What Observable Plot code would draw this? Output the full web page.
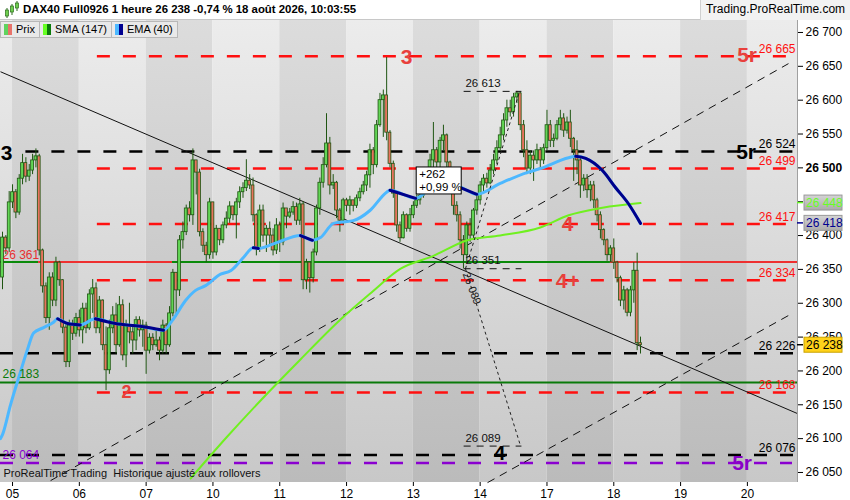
<!DOCTYPE html>
<html><head><meta charset="utf-8">
<script src="https://cdn.jsdelivr.net/npm/d3@7"></script>
<script src="https://cdn.jsdelivr.net/npm/@observablehq/plot@0.6"></script>
<style>
body{margin:0;background:#fff;font-family:"Liberation Sans",Arial,sans-serif;}
#wrap{position:relative;width:850px;height:500px;overflow:hidden;background:#fff}
#hdr{position:absolute;top:0;left:0;width:850px;height:20px;background:#fff;border-bottom:1px solid #c8c8c8;box-sizing:border-box}
#title{position:absolute;left:23px;top:3px;font-weight:bold;font-size:11.4px;color:#000;white-space:nowrap}
#site{position:absolute;left:700px;top:0;width:150px;height:20px;background:#f2f2f2;border-left:1px solid #d0d0d0;box-sizing:border-box;font-size:12px;line-height:19px;text-align:center;color:#000;white-space:nowrap}
#chart{position:absolute;top:20px;left:0}
#legend{position:absolute;top:21px;left:0;height:18px;display:flex}
.lg{height:17px;border:1px solid #b8b8b8;background:#e9e9e9;font-size:11px;line-height:17px;padding:0 4px 0 3px;display:flex;align-items:center;box-sizing:border-box;margin-right:-1px;white-space:nowrap}
.sw{display:inline-block;width:4px;height:11px;}
.sws{display:inline-flex;margin-right:4px}
</style></head>
<body>
<div id="wrap">
  <div id="hdr">
    <svg width="20" height="20" style="position:absolute;left:3px;top:0">
      <line x1="4" y1="8" x2="4" y2="18" stroke="#2a6b1a"/><rect x="2.5" y="10" width="3" height="6" fill="#6fd04f" stroke="#2a6b1a" stroke-width="0.7"/>
      <line x1="9" y1="4" x2="9" y2="15" stroke="#2a6b1a"/><rect x="7.5" y="6" width="3" height="6" fill="#6fd04f" stroke="#2a6b1a" stroke-width="0.7"/>
      <line x1="14" y1="1" x2="14" y2="11" stroke="#2a6b1a"/><rect x="12.5" y="3" width="3" height="5" fill="#6fd04f" stroke="#2a6b1a" stroke-width="0.7"/>
    </svg>
    <div id="title">DAX40 Full0926 1 heure 26 238 -0,74 % 18 août 2026, 10:03:55</div>
    <div id="site">Trading.ProRealTime.com</div>
  </div>
  <div id="chart"></div>
  <div id="legend">
    <div class="lg"><span class="sws"><span class="sw" style="background:#5fd35f"></span><span class="sw" style="background:#e8736a"></span></span>Prix</div>
    <div class="lg"><span class="sws"><span class="sw" style="background:#66ff22"></span><span class="sw" style="background:#0a7a0a"></span></span>SMA (147)</div>
    <div class="lg"><span class="sws"><span class="sw" style="background:#4db8ff"></span><span class="sw" style="background:#000090"></span></span>EMA (40)</div>
  </div>
</div>
<script>
// ---------- data ----------
const dayLabels = ["05","06","07","10","11","12","13","14","17","18","19","20"];
const dayStartBar = [3,23,43,63,83,103,123,143,163,183,203,223];

const firstOpen = 26338;
const barClose = [26397,26381,26449,26464,26434,26484,26507,26487,26496,26511,26517,26378,26325,26278,26338,26304,26360,26334,26264,26213,
26267,26255,26278,26260,26292,26263,26313,26322,26263,26304,26238,26201,26263,26282,26238,26297,26223,26267,26257,26245,
26275,26260,26267,26230,26249,26238,26245,26230,26267,26238,26285,26345,26319,26393,26405,26440,26430,26511,26493,26405,
26385,26371,26449,26375,26410,26393,26415,26425,26443,26430,26449,26464,26470,26481,26474,26430,26381,26437,26400,26410,
26400,26378,26415,26390,26440,26428,26434,26442,26422,26446,26334,26360,26337,26375,26440,26478,26504,26536,26474,26478,
26437,26422,26452,26444,26452,26444,26455,26464,26474,26489,26526,26504,26563,26600,26607,26552,26506,26462,26415,26396,
26430,26410,26430,26444,26452,26459,26474,26489,26511,26526,26508,26540,26548,26508,26489,26444,26430,26393,26371,26415,
26400,26437,26452,26474,26484,26477,26496,26511,26529,26548,26570,26588,26582,26604,26610,26563,26526,26499,26518,26511,
26526,26511,26529,26563,26540,26543,26563,26573,26555,26567,26543,26526,26511,26474,26484,26467,26474,26452,26430,26408,
26393,26371,26381,26360,26337,26304,26319,26286,26319,26348,26241,26238];
const barHigh = [26405,26400,26465,26475,26468,26490,26520,26515,26505,26520,26528,26520,26380,26330,26345,26345,26368,26362,26335,26270,
26275,26275,26285,26290,26300,26300,26320,26335,26330,26310,26305,26265,26275,26295,26300,26310,26305,26275,26300,26265,
26280,26280,26275,26272,26255,26255,26260,26250,26275,26270,26295,26350,26345,26400,26420,26445,26450,26528,26510,26498,
26410,26390,26455,26445,26415,26410,26420,26435,26450,26440,26455,26472,26478,26512,26490,26485,26432,26445,26445,26415,
26420,26410,26425,26420,26448,26440,26440,26450,26448,26455,26450,26365,26350,26380,26445,26485,26515,26580,26545,26490,
26480,26440,26455,26455,26458,26452,26460,26470,26480,26495,26535,26530,26570,26610,26615,26663,26555,26510,26465,26420,
26435,26432,26440,26450,26460,26465,26480,26495,26520,26567,26530,26545,26563,26550,26510,26490,26450,26435,26400,26420,
26425,26440,26460,26480,26490,26492,26505,26520,26540,26560,26580,26600,26600,26610,26613,26612,26570,26540,26525,26525,
26535,26530,26535,26585,26570,26550,26570,26585,26580,26575,26585,26545,26540,26515,26490,26490,26480,26480,26455,26435,
26410,26395,26385,26395,26362,26340,26325,26322,26325,26360,26374,26250];
const barLow = [26320,26372,26375,26440,26425,26430,26475,26478,26480,26490,26500,26370,26315,26270,26260,26295,26295,26325,26255,26205,
26205,26245,26250,26250,26240,26255,26260,26285,26255,26255,26230,26171,26195,26255,26225,26235,26215,26205,26240,26225,
26230,26250,26235,26195,26225,26230,26235,26215,26225,26225,26235,26280,26280,26310,26380,26400,26420,26415,26460,26398,
26375,26360,26365,26365,26370,26385,26388,26410,26418,26422,26395,26440,26455,26465,26468,26420,26370,26375,26390,26375,
26385,26370,26372,26375,26385,26410,26425,26430,26415,26415,26320,26320,26315,26330,26370,26430,26470,26500,26460,26468,
26425,26405,26415,26435,26430,26435,26440,26450,26460,26465,26470,26490,26500,26560,26545,26540,26500,26455,26405,26390,
26395,26405,26405,26425,26440,26445,26455,26470,26480,26500,26490,26500,26525,26500,26470,26430,26420,26380,26351,26360,
26390,26395,26430,26445,26465,26470,26475,26490,26505,26525,26540,26560,26575,26575,26595,26555,26515,26490,26490,26480,
26505,26500,26505,26525,26530,26530,26540,26555,26545,26550,26530,26480,26490,26455,26465,26455,26450,26440,26420,26395,
26385,26362,26360,26350,26330,26295,26290,26280,26280,26300,26230,26225];

// SMA (147) and EMA (40), read at bar positions
const smaBar = [56.3,67.1,77.2,89.2,101.2,110,119.2,129,139.2,149,161,169.5,179.6,191];
const smaVal = [26041,26102,26156,26217,26276,26314,26351,26370,26393,26400,26412,26430,26441,26448];
const emaBar = [-0.6,0,2.4,5.4,7.5,9.3,12.3,15.3,16.5,19.5,23.3,27.8,33.8,41.3,48.2,50.9,54.8,57.8,60.8,65.3,68.3,72.2,75.1,76.6,82.3,89.2,92.8,95.2,99.1,105,110,115,116,123.7,128,136,142,149,157,161,169.5,171.6,174.6,179.6,183.5,187.4,191];
const emaVal = [26100,26106,26150,26199,26232,26256,26264,26272,26277,26270,26268,26277,26270,26266,26260,26275,26304,26319,26326,26343,26348,26368,26382,26381,26390,26400,26393,26397,26418,26422,26437,26464,26467,26455,26468,26473,26461,26477,26493,26499,26515,26517,26514,26496,26471,26447,26418];

// levels
const redDashLevels = [26665,26499,26417,26334,26168];
const blackDashLevels = [26524,26226,26076];
const purpleLevels = [26064];
const greenLevel = 26183;
const pivotLevel = 26361;
const lastPrice = 26238, smaLast = 26448, emaLast = 26418;

// trend lines [bar, price]
const trendSolid = [[-0.6,26642],[238,26137]];
const trendDashA = [[14.4,26038],[235.3,26654]];
const trendDashB = [[145.2,26035],[236.8,26286]];
// measurement triangle
const measLow = [138.6,26351], measHigh = [154.8,26613], measTarget = [155.1,26089];
const measText = ["+262", "+0,99 %"];

// big labels
const bigLabels = [
 {t:"3", b:121, p:26663, c:"#e8403c"},
 {t:"5r", b:222.9, p:26666, c:"#e8403c"},
 {t:"5r", b:222.6, p:26523, c:"#000"},
 {t:"4", b:169.2, p:26416, c:"#e8403c"},
 {t:"4+", b:169.2, p:26332, c:"#e8403c"},
 {t:"2", b:37.1, p:26168, c:"#e8403c"},
 {t:"3", b:1.2, p:26521, c:"#000"},
 {t:"4", b:148.8, p:26078, c:"#000"},
 {t:"5r", b:221.4, p:26064, c:"#8a00c8"}
];

// ---------- build ----------
const fmt = v => d3.format(",")(v).replace(/,/g," ");
const bars = barClose.map((c,i)=>{
  const o = i ? barClose[i-1] : firstOpen;
  return {i, o, c, h: Math.max(barHigh[i], o, c), l: Math.min(barLow[i], o, c)};
});
const sma = smaBar.map((b,i)=>({b, v: smaVal[i]}));
const ema = emaBar.map((b,i)=>({b, v: emaVal[i]}));
const emaFall = [];
let run = 0, prevFall = false;
for (let j=0;j<ema.length-1;j++){
  const f = ema[j+1].v < ema[j].v;
  if (f){ if(!prevFall){run++; emaFall.push({...ema[j], run});} emaFall.push({...ema[j+1], run}); }
  prevFall = f;
}
const bands = [{x1:-0.6,x2:3,k:-1}].concat(dayStartBar.map((s,k)=>({x1:s, x2: k<dayStartBar.length-1 ? dayStartBar[k+1] : 238, k})));
const pivotSegs = [[-0.6,10.8,"#0a8a0a"],[10.8,50.9,"#ee3030"],[50.9,182,"#0a8a0a"],[182,238,"#ee3030"]];

const RED = "#ff1010";
const FONT = '"Liberation Sans", Arial, sans-serif';
const chart = Plot.plot({
  width: 850, height: 480,
  marginLeft: 0, marginRight: 53, marginTop: 0, marginBottom: 18,
  style: {fontFamily: FONT, background: "transparent", overflow: "visible"},
  x: {domain: [-0.6, 238]},
  y: {domain: [26035.2, 26717.7]},
  marks: [
    Plot.rect(bands, {x1:"x1", x2:"x2", y1:26035.2, y2:26717.7, fill: d => (d.k % 2 === 0) ? "url(#gDark)" : "url(#gLight)"}),
    // horizontal levels
    Plot.ruleY(redDashLevels, {y: d=>d, x1: 28.4, x2: 235.3, stroke: RED, strokeWidth: 2.5, strokeDasharray: "13,13"}),
    Plot.ruleY(blackDashLevels, {y: d=>d, x1: d => d===26524 ? 7 : -0.6, x2: 236.8, stroke: "#000", strokeWidth: 2.5, strokeDasharray: "13,13"}),
    Plot.ruleY(purpleLevels, {y: d=>d, x1: -0.6, x2: 236.5, stroke: "#8a00d0", strokeWidth: 2.5, strokeDasharray: "13,13"}),
    Plot.ruleY([greenLevel], {y: d=>d, x1: -0.6, x2: 238, stroke: "#0a7a0a", strokeWidth: 2}),
    Plot.ruleY(pivotSegs, {y: pivotLevel, x1: d=>d[0], x2: d=>d[1], stroke: d=>d[2], strokeWidth: 2}),
    // trend lines
    Plot.link([trendSolid], {x1: d=>d[0][0], y1: d=>d[0][1], x2: d=>d[1][0], y2: d=>d[1][1], stroke:"#111", strokeWidth:1}),
    Plot.link([trendDashA, trendDashB], {x1: d=>d[0][0], y1: d=>d[0][1], x2: d=>d[1][0], y2: d=>d[1][1], stroke:"#111", strokeWidth:1, strokeDasharray:"8,6"}),
    // candles
    Plot.ruleX(bars, {x:"i", y1:"l", y2:"h", stroke:"#1f5512", strokeWidth:1}),
    Plot.rect(bars, {x1: d=>d.i-0.42, x2: d=>d.i+0.42, y1: "o", y2: d => Math.abs(d.c-d.o)<1 ? d.o+1 : d.c,
      fill: d => d.c >= d.o ? "#62d655" : "#e8735e", stroke:"#1f5512", strokeWidth:0.8}),
    // indicators
    Plot.line(sma, {x:"b", y:"v", stroke:"#70f020", strokeWidth:2, curve:"monotone-x", clip:true}),
    Plot.line(ema, {x:"b", y:"v", stroke:"#4db8ff", strokeWidth:3, curve:"monotone-x", clip:true}),
    Plot.line(emaFall, {x:"b", y:"v", z:"run", stroke:"#00008b", strokeWidth:3, curve:"monotone-x", clip:true}),
    // measurement triangle
    Plot.link([[measLow, measHigh],[measLow, measTarget]], {x1: d=>d[0][0], y1: d=>d[0][1], x2: d=>d[1][0], y2: d=>d[1][1], stroke:"#222", strokeWidth:1, strokeDasharray:"3,3"}),
    Plot.ruleY([measHigh[1], measLow[1], measTarget[1]], {y: d=>d, x1: 138.2, x2: 155.5, stroke:"#111", strokeWidth:1, strokeDasharray:"7,6"}),
    Plot.text([measHigh[1], measLow[1], measTarget[1]], {y: d=>d, x: 138.6, text: fmt, textAnchor:"start", dy:-8, fontSize:11.5, fill:"#111"}),
    Plot.text([measTarget[1]], {x: 140.5, y: 26322, text: fmt, rotate: 69, fontSize:11, fill:"#222"}),
    // right labels for levels
    Plot.text(redDashLevels, {y: d=>d, text: fmt, frameAnchor:"right", textAnchor:"end", dx:-2, dy:-7, fill: RED, fontSize:12}),
    Plot.text(blackDashLevels, {y: d=>d, text: fmt, frameAnchor:"right", textAnchor:"end", dx:-2, dy:-7, fill:"#000", fontSize:12, fontWeight: d => d===26524 ? "bold" : "normal"}),
    // left labels
    Plot.text([pivotLevel], {y: d=>d, text: fmt, frameAnchor:"left", textAnchor:"start", dx:2, dy:-7, fill:"#e83030", fontSize:12}),
    Plot.text([greenLevel], {y: d=>d, text: fmt, frameAnchor:"left", textAnchor:"start", dx:2, dy:-8, fill:"#0a7a0a", fontSize:12}),
    Plot.text(purpleLevels, {y: d=>d, text: fmt, frameAnchor:"left", textAnchor:"start", dx:2, dy:-8, fill:"#8a00d0", fontSize:12}),
    // big labels
    Plot.text(bigLabels, {x:"b", y:"p", text:"t", fill:"c", fontSize: d => d.t==="2" ? 18 : 21, fontWeight:"bold"}),
    Plot.text(["ProRealTime Trading  Historique ajusté aux rollovers"], {text: d=>d, frameAnchor:"bottom-left", textAnchor:"start", dx:3, dy:-6, fontSize:11, fill:"#111"}),
    // axes
    Plot.axisY({anchor:"right", ticks: d3.range(26050, 26701, 50), tickFormat: fmt, tickSize:5, tickPadding:3, fontSize:12, color:"#000"}),
    Plot.axisX({ticks: dayStartBar, tickFormat: d => dayLabels[dayStartBar.indexOf(d)], tickSize:4, tickPadding:3, fontSize:12, color:"#000"}),
    Plot.ruleX([238], {stroke:"#a0a0a0", strokeWidth:1})
  ]
});
document.getElementById("chart").appendChild(chart);

// gradients + decorations
const svg = d3.select(chart);
const defs = svg.insert("defs", ":first-child");
function grad(id, top, bottom){
  const g = defs.append("linearGradient").attr("id", id).attr("x1",0).attr("y1",0).attr("x2",0).attr("y2",1);
  g.append("stop").attr("offset","0%").attr("stop-color",top);
  g.append("stop").attr("offset","100%").attr("stop-color",bottom);
}
grad("gLight", "#ececec", "#c8c8c8");
grad("gDark", "#dcdcdc", "#bbbbbb");
grad("gBox", "#d4d4d4", "#ababab");

const xs = chart.scale("x"), ys = chart.scale("y");
svg.selectAll("text").each(function(){ if (this.textContent === "26 500" && this.closest("g[aria-label='y-axis tick label']")) d3.select(this).attr("font-weight","bold"); });

function priceBox(v, fill, stroke, color, tickColor){
  const y = ys.apply(v), g = svg.append("g").attr("text-anchor","start");
  if (tickColor) g.append("line").attr("x1",797).attr("x2",803).attr("y1",y).attr("y2",y).attr("stroke",tickColor).attr("stroke-width",1.5);
  g.append("rect").attr("x",804).attr("y",y-7.5).attr("width",38).attr("height",15).attr("fill",fill).attr("stroke",stroke);
  g.append("text").attr("x",806).attr("y",y).attr("dy","0.35em").attr("font-size",12).attr("fill",color).attr("font-family",FONT).attr("text-anchor","start").text(fmt(v));
}
priceBox(smaLast, "url(#gBox)", "#999", "#66ff22", "#66ff22");
priceBox(emaLast, "url(#gBox)", "#999", "#000090", "#000090");
priceBox(lastPrice, "#ffd21a", "#c9a200", "#000", "#000");

// annotation box (measured move)
const ax = xs.apply(124), ay = ys.apply(26500.6);
const ag = svg.append("g").attr("font-family",FONT).attr("font-size",11.5).attr("text-anchor","start");
ag.append("rect").attr("x",ax).attr("y",ay).attr("width",45).attr("height",27).attr("fill","#fff").attr("stroke","#000");
measText.forEach((t,k)=> ag.append("text").attr("x",ax+3).attr("y",ay+11.5+k*12.5).attr("text-anchor","start").text(t));
</script>
</body></html>
